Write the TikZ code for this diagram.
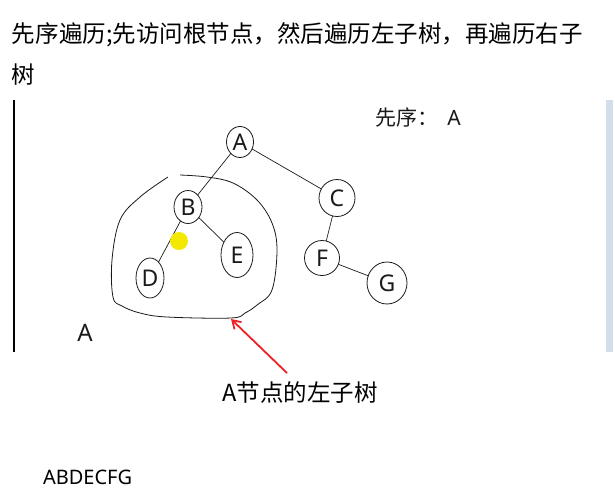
\documentclass[tikz,border=0pt]{standalone}
\usepackage{fontspec}
\setmainfont{Noto Sans CJK SC}
\newfontfamily\latinfont{Noto Sans}
\usetikzlibrary{shapes.geometric, arrows.meta, positioning}
\definecolor{NoteBlack}{HTML}{000000}
\definecolor{NoteInk}{HTML}{1A1A1A}
\definecolor{NoteRed}{HTML}{EE2026}
\definecolor{NoteYellow}{HTML}{F5E800}
\definecolor{NoteStrip}{HTML}{D3DEEC}
\tikzset{
    % Screen text
    every node/.style={inner sep=0pt, outer sep=0pt},
    % Heading lines
    heading/.style={
        anchor=west,
        font=\fontsize{23.5pt}{28pt}\selectfont,
        text=NoteBlack
    },
    % Hand drawn tree node
    treenode/.style={
        ellipse,
        draw=NoteInk,
        line width=0.8pt,
        font=\latinfont\fontsize{23pt}{25pt}\selectfont,
        text=NoteInk
    },
    % Tree edge
    treeedge/.style={
        draw=NoteInk,
        line width=0.7pt
    },
    % Hand written notes
    scribble/.style={
        font=\fontsize{21pt}{24pt}\selectfont,
        text=NoteInk
    },
    % Pointer arrow
    pointer/.style={
        -{Straight Barb[length=8pt, width=10pt]},
        draw=NoteRed,
        line width=1.8pt
    }
}

\begin{document}
\begin{tikzpicture}[x=1pt, y=-1pt]
        \useasboundingbox (0,0) rectangle (615,501);

        % Heading
        \node (title1) [heading] at (12,35) {先序遍历;先访问根节点，然后遍历左子树，再遍历右子};
        \node (title2) [heading] at (12,75) {树};

        % Frame of the drawing board
        \draw [NoteBlack, line width=2pt] (14,100) -- (14,352);
        \fill [NoteStrip] (606,100) rectangle (613,352);

        % Tree nodes
        \node (A) [treenode, minimum width=27pt, minimum height=31pt] at (240,142) {A};
        \node (B) [treenode, minimum width=28pt, minimum height=33pt] at (188,207) {B};
        \node (C) [treenode, minimum width=36pt, minimum height=37pt] at (337,198) {C};
        \node (D) [treenode, minimum width=28pt, minimum height=40pt] at (150,278) {D};
        \node (E) [treenode, minimum width=32pt, minimum height=45pt] at (237,255) {E};
        \node (F) [treenode, minimum width=35pt, minimum height=35pt] at (322,258) {F};
        \node (G) [treenode, minimum width=40pt, minimum height=42pt] at (387,283) {G};

        \draw [treeedge] (A) -- (B);
        \draw [treeedge] (A) -- (C);
        \draw [treeedge] (B) -- (D);
        \draw [treeedge] (B) -- (E);
        \draw [treeedge] (C) -- (F);
        \draw [treeedge] (F) -- (G);

        % Marker dot
        \node (dot) [circle, fill=NoteYellow, minimum size=18pt] at (179,241) {};

        % Outline of the left subtree
        \draw [treeedge, line width=0.8pt] plot [smooth, tension=0.6] coordinates {
            (168,177) (140,197) (120,220) (112,260) (113,297) (122,306)
            (140,313) (167,317) (231,318) (245,313) (257,305) (272,290)
            (277,250) (272,223) (257,200) (233,183) (207,177) (180,175)
        };
        \coordinate (tip) at (231,319);
        \coordinate (tail) at (287,373);
        \draw [pointer] (tail) -- (tip);

        % Notes
        \node (pre) [scribble, anchor=west] at (375,118) {先序：\ \ {\latinfont A}};
        \node (mark) [scribble, font=\latinfont\fontsize{24pt}{26pt}\selectfont] at (85,333) {A};
        \node (lbl) [heading, anchor=center] at (300,393) {A节点的左子树};
        \node (order) [anchor=west, font=\latinfont\fontsize{20pt}{22pt}\selectfont] at (43,477) {ABDECFG};
    \end{tikzpicture}
\end{document}
